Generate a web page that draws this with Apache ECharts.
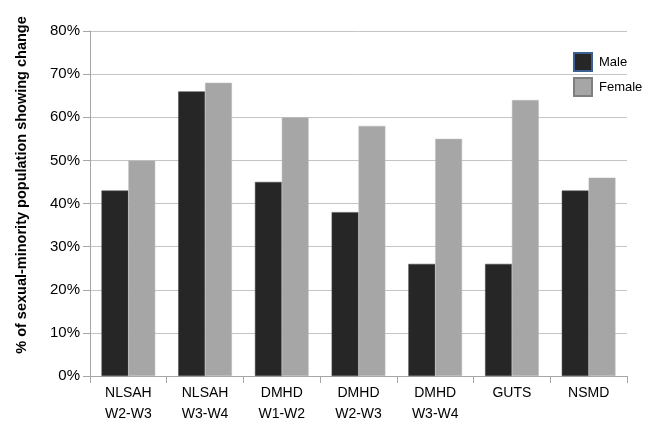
<!DOCTYPE html>
<html><head><meta charset="utf-8">
<script src="https://cdn.jsdelivr.net/npm/echarts@6/dist/echarts.min.js"></script>
<style>html,body{margin:0;padding:0;background:#fff}#c{width:645px;height:427px}</style>
</head><body><div id="c"></div>
<script>
const categories = ['NLSAH\nW2-W3','NLSAH\nW3-W4','DMHD\nW1-W2','DMHD\nW2-W3','DMHD\nW3-W4','GUTS','NSMD'];
const male = [43, 66, 45, 38, 26, 26, 43];
const female = [50, 68, 60, 58, 55, 64, 46];
const yTicks = [0,10,20,30,40,50,60,70,80];
const yTitle = '% of sexual-minority population showing change';
const font = 'Liberation Sans, Arial, sans-serif';
const chart = echarts.init(document.getElementById('c'));
chart.setOption({
  animation:false,
  backgroundColor:'#fff',
  grid:{left:90,right:18,top:31,bottom:51},
  graphic:[{
    type:'text', x:22, y:185, rotation:Math.PI/2,
    style:{text:yTitle, fontFamily:font, fontSize:14.5, fontWeight:'bold', fill:'#000',
      align:'center', verticalAlign:'middle'}
  }],
  legend:{
    orient:'vertical', left:568, top:47, itemWidth:18, itemHeight:18, itemGap:5,
    icon:'rect',
    textStyle:{fontFamily:font,fontSize:13,color:'#000',padding:[0,0,0,2]},
    data:[
      {name:'Male', itemStyle:{color:'#262626',borderColor:'#3b5f8e',borderWidth:2}},
      {name:'Female', itemStyle:{color:'#a6a6a6',borderColor:'#7f7f7f',borderWidth:2}}
    ]
  },
  xAxis:{
    type:'category', data:categories,
    axisLine:{lineStyle:{color:'#a6a6a6'}},
    axisTick:{show:true,length:7,alignWithLabel:false,lineStyle:{color:'#a6a6a6'}},
    axisLabel:{fontFamily:font,fontSize:14,color:'#000',margin:7,lineHeight:21}
  },
  yAxis:{
    type:'value', min:0, max:80, interval:10,
    axisLine:{show:true,lineStyle:{color:'#a6a6a6'}},
    axisTick:{show:true,length:7,lineStyle:{color:'#a6a6a6'}},
    splitLine:{lineStyle:{color:'#c4c4c4'}},
    axisLabel:{fontFamily:font,fontSize:15,color:'#000',margin:10,
      formatter:v=>yTicks.includes(v)?v+'%':''}
  },
  series:[
    {name:'Male',type:'bar',data:male,barWidth:'35%',barGap:'0%',
     itemStyle:{color:'#262626',borderColor:'#4a4a4a',borderWidth:0.5}},
    {name:'Female',type:'bar',data:female,barWidth:'35%',barGap:'0%',
     itemStyle:{color:'#a6a6a6',borderColor:'#bdbdbd',borderWidth:0.5}}
  ]
});
</script></body></html>
